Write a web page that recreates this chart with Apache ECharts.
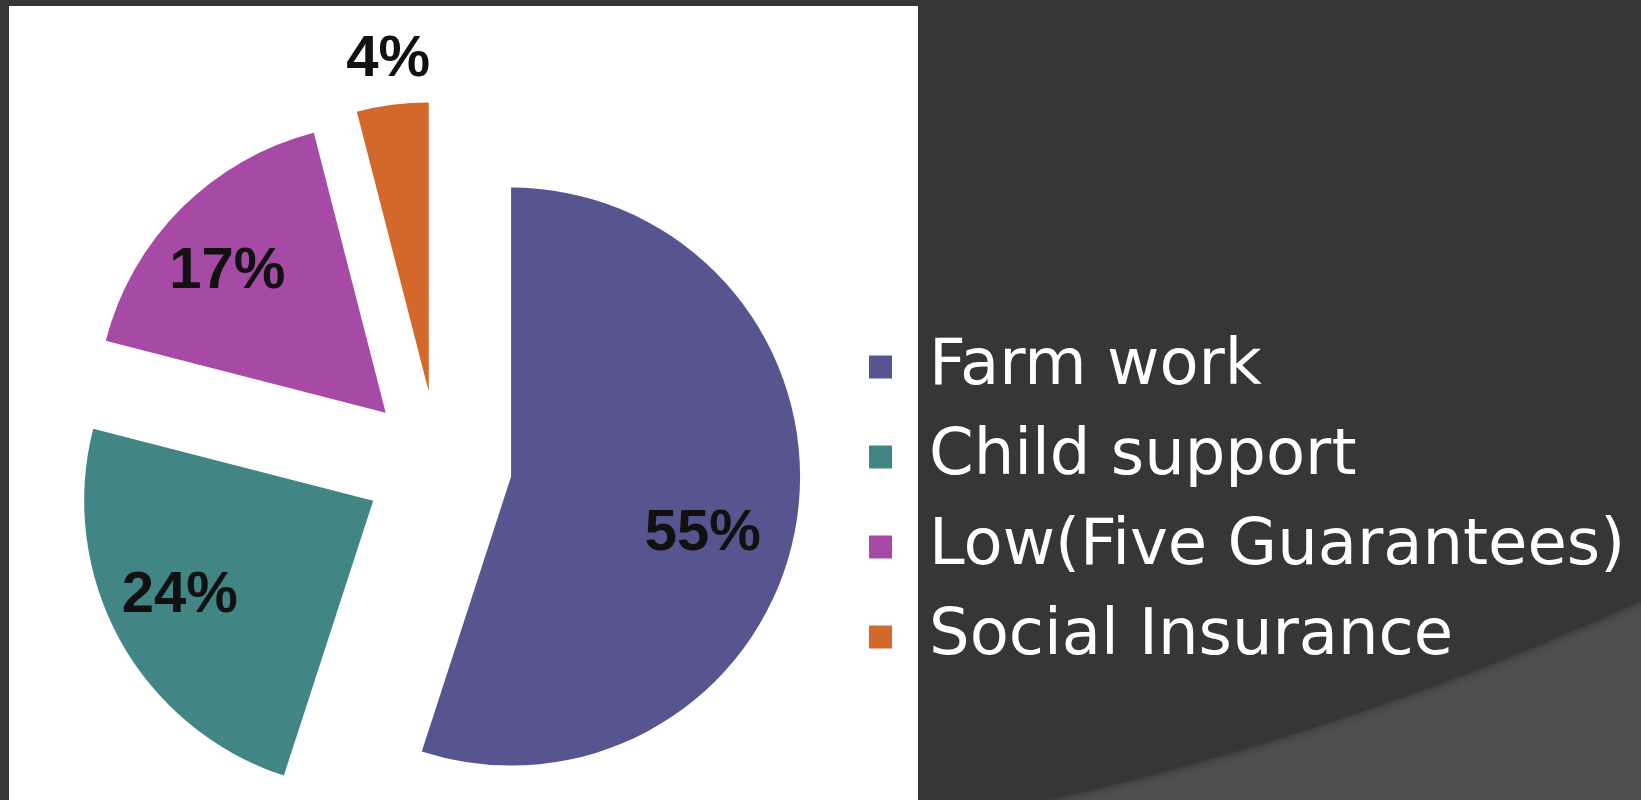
<!DOCTYPE html>
<html>
<head>
<meta charset="utf-8">
<title>Pie</title>
<script src="https://cdn.jsdelivr.net/npm/echarts@6.0.0/dist/echarts.min.js"></script>
<style>
    html, body { margin: 0; padding: 0; background: #4f4f4f; }
    #main { width: 1641px; height: 800px; }
</style>
</head>
<body>
<div id="main"></div>
<script>
var categories = ['Farm work', 'Child support', 'Low(Five Guarantees)', 'Social Insurance'];
var shares = [55, 24, 17, 4];
var colors = ['#57558f', '#428585', '#a64aa6', '#d2682a'];

// label nudges from the default inside spot
var labelNudge = [[46, 34], [-64, 24], [-54, -36], [-22, -185]];

var myChart = echarts.init(document.getElementById('main'));

var pieData = [];
for (var i = 0; i < categories.length; i++) {
    pieData.push({
        name: categories[i],
        value: shares[i],
        selected: true,
        itemStyle: { color: colors[i] }
    });
}

var option = {
    backgroundColor: '#4f4f4f',
    animation: false,
    graphic: [
        {
            type: 'circle',   // dark part of the slide
            shape: { cx: 374, cy: -2185, r: 3060 },
            style: { fill: '#363636', shadowColor: 'rgba(0,0,0,0.5)', shadowBlur: 10 },
            silent: true
        },
        {
            type: 'rect',     // white picture panel
            shape: { x: 9, y: 6, width: 909, height: 800 },
            style: { fill: '#ffffff' },
            silent: true
        }
    ],
    legend: {
        orient: 'vertical',
        left: 864,
        top: 330,
        itemWidth: 23,
        itemHeight: 23,
        itemGap: 26,
        icon: 'rect',
        selectedMode: false,
        data: categories,
        textStyle: {
            color: '#ffffff',
            fontFamily: 'DejaVu Sans',
            fontSize: 64,
            lineHeight: 64,
            padding: [0, 0, 0, 32]   // legend puts a fixed 5px after the icon
        }
    },
    series: [
        {
            name: 'share',
            type: 'pie',
            center: [438, 465],
            radius: 289,
            startAngle: 90,
            clockwise: true,
            selectedMode: 'multiple',
            selectedOffset: 74,
            avoidLabelOverlap: false,
            emphasis: { disabled: true },
            label: {
                show: true,
                position: 'inside',
                formatter: '{d}%',
                color: '#111111',
                fontFamily: 'Liberation Sans',
                fontWeight: 'bold',
                fontSize: 58
            },
            labelLine: { show: false },
            labelLayout: function (params) {
                var n = labelNudge[params.dataIndex];
                return { dx: n[0], dy: n[1] };
            },
            data: pieData
        }
    ]
};

myChart.setOption(option);
window.onresize = function () {
    myChart.resize();
};
</script>
</body>
</html>
